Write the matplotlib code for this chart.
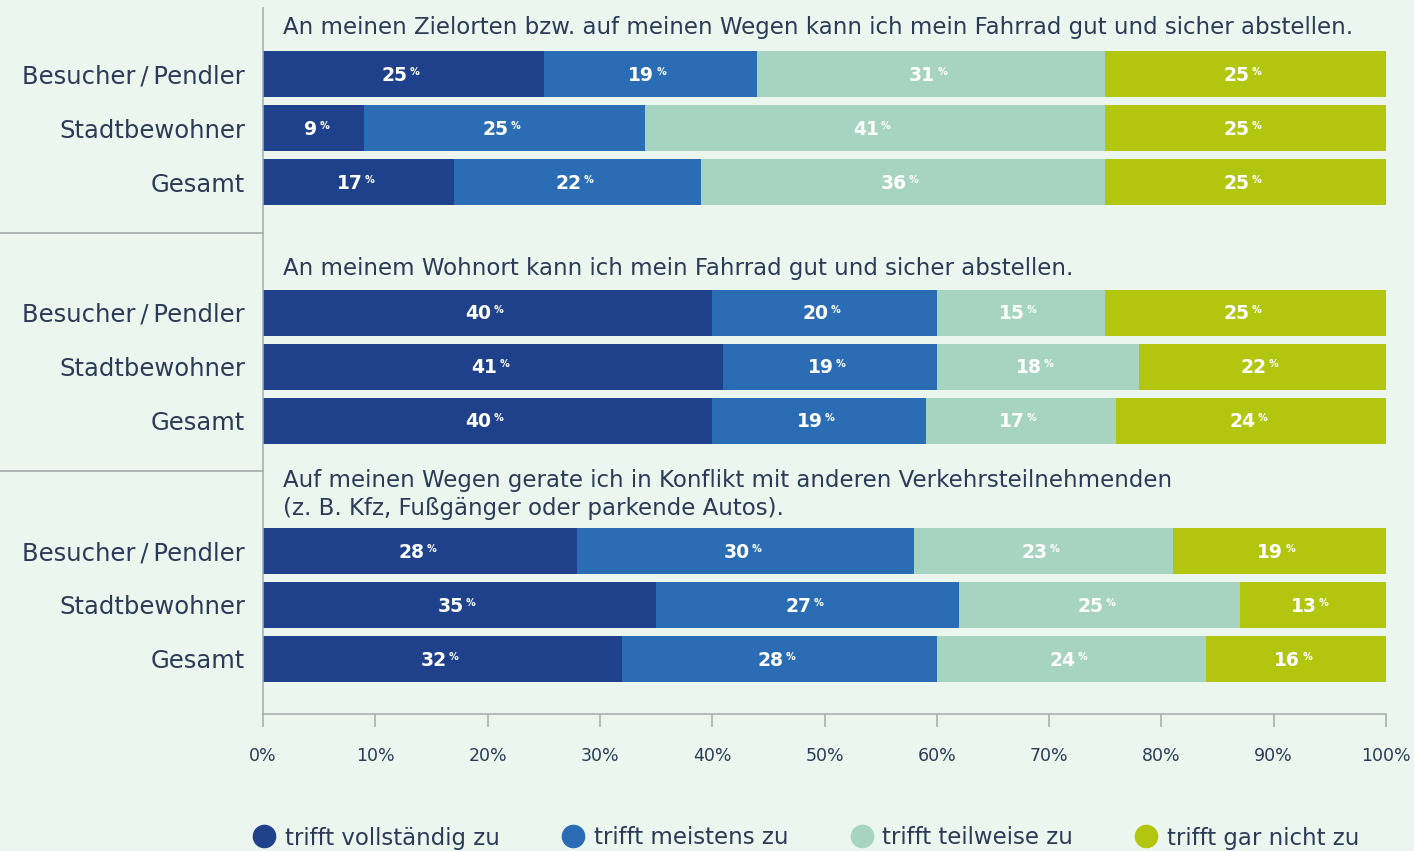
import matplotlib
matplotlib.use("Agg")
import matplotlib.pyplot as plt
from matplotlib.lines import Line2D
import matplotlib.transforms as mtrans

plt.rcParams['font.family'] = ['DejaVu Sans']

# ---- data ----
questions = [
    "An meinen Zielorten bzw. auf meinen Wegen kann ich mein Fahrrad gut und sicher abstellen.",
    "An meinem Wohnort kann ich mein Fahrrad gut und sicher abstellen.",
    "Auf meinen Wegen gerate ich in Konflikt mit anderen Verkehrsteilnehmenden\n(z. B. Kfz, Fußgänger oder parkende Autos).",
]
groups = ["Besucher\u2009/\u2009Pendler", "Stadtbewohner", "Gesamt"]
categories = ["trifft vollständig zu", "trifft meistens zu", "trifft teilweise zu", "trifft gar nicht zu"]

# values[question][group] = [vollständig, meistens, teilweise, gar nicht]
q1_values = [[25, 19, 31, 25], [9, 25, 41, 25], [17, 22, 36, 25]]
q2_values = [[40, 20, 15, 25], [41, 19, 18, 22], [40, 19, 17, 24]]
q3_values = [[28, 30, 23, 19], [35, 27, 25, 13], [32, 28, 24, 16]]
all_values = [q1_values, q2_values, q3_values]

x_ticks = [0, 10, 20, 30, 40, 50, 60, 70, 80, 90, 100]
x_ticklabels = ["0%", "10%", "20%", "30%", "40%", "50%", "60%", "70%", "80%", "90%", "100%"]

# ---- style ----
colors = ["#1f418b", "#2b6db4", "#a7d4c0", "#b2c60f"]
bg = "#eaf6ee"
text_col = "#2c3a57"
axis_col = "#a3abab"

W, H = 1414, 851
fig = plt.figure(figsize=(W / 100, H / 100), dpi=100, facecolor=bg)
ax_left, ax_right, ax_top, ax_bottom = 263, 1386, 8, 714
ax = fig.add_axes([ax_left / W, (H - ax_bottom) / H, (ax_right - ax_left) / W, (ax_bottom - ax_top) / H])
ax.set_facecolor(bg)
ax.set_xlim(0, 100)
ax.set_ylim(ax_bottom, ax_top)  # y in pixel-like units, downward

bar_h = 46
row_step = 54
group_start = 74
group_step = 238.5
title_gap = [17, 14, 13]

ytick_pos, ytick_lab = [], []
for gi, (q, vals) in enumerate(zip(questions, all_values)):
    y0 = group_start + gi * group_step
    for ri, row in enumerate(vals):
        yc = y0 + ri * row_step
        ytick_pos.append(yc)
        ytick_lab.append(groups[ri])
        left = 0
        for ci, v in enumerate(row):
            ax.barh(yc, v, left=left, height=bar_h, color=colors[ci], edgecolor='none')
            cx = left + v / 2
            tr_num = mtrans.offset_copy(ax.transData, fig=fig, x=4, y=0, units='dots')
            tr_pct = mtrans.offset_copy(ax.transData, fig=fig, x=6, y=0, units='dots')
            ax.text(cx, yc + 6.5, f"{v}", transform=tr_num, ha='right', va='baseline',
                    color='white', fontsize=13.5, fontweight='bold')
            ax.text(cx, yc + 0.5, "%", transform=tr_pct, ha='left', va='baseline',
                    color='white', fontsize=7, fontweight='bold')
            left += v
    # question title
    ax.text(1.8, y0 - bar_h / 2 - title_gap[gi], q, ha='left', va='baseline', fontsize=16.5,
            color=text_col, linespacing=1.3, clip_on=False)
    # separator line in the left label area
    if gi > 0:
        ysep = y0 - 80
        blend = mtrans.blended_transform_factory(fig.transFigure, ax.transData)
        ln = Line2D([0, ax_left / W], [ysep, ysep], transform=blend, color=axis_col, lw=1.2, clip_on=False)
        ax.add_line(ln)

ax.set_yticks(ytick_pos)
ax.set_yticklabels(ytick_lab, fontsize=17.5, color=text_col)
ax.tick_params(axis='y', length=0, pad=13)

ax.set_xticks(x_ticks)
ax.set_xticklabels(x_ticklabels, fontsize=12.5, color=text_col)
ax.tick_params(axis='x', length=9.5, width=1.1, color=axis_col, pad=14)

for s in ['top', 'right']:
    ax.spines[s].set_visible(False)
for s in ['left', 'bottom']:
    ax.spines[s].set_color(axis_col)
    ax.spines[s].set_linewidth(1.1)

handles = [Line2D([], [], marker='o', ls='', ms=16, color=c, markeredgecolor=c) for c in colors]
fig.legend(handles, categories, loc='center', ncol=4, frameon=False,
           bbox_to_anchor=(805 / W, 1 - 838 / H), fontsize=16.5, labelcolor=text_col,
           handletextpad=0.3, columnspacing=2.6, handlelength=1.2)

fig.savefig("out.png", dpi=100, facecolor=bg)
